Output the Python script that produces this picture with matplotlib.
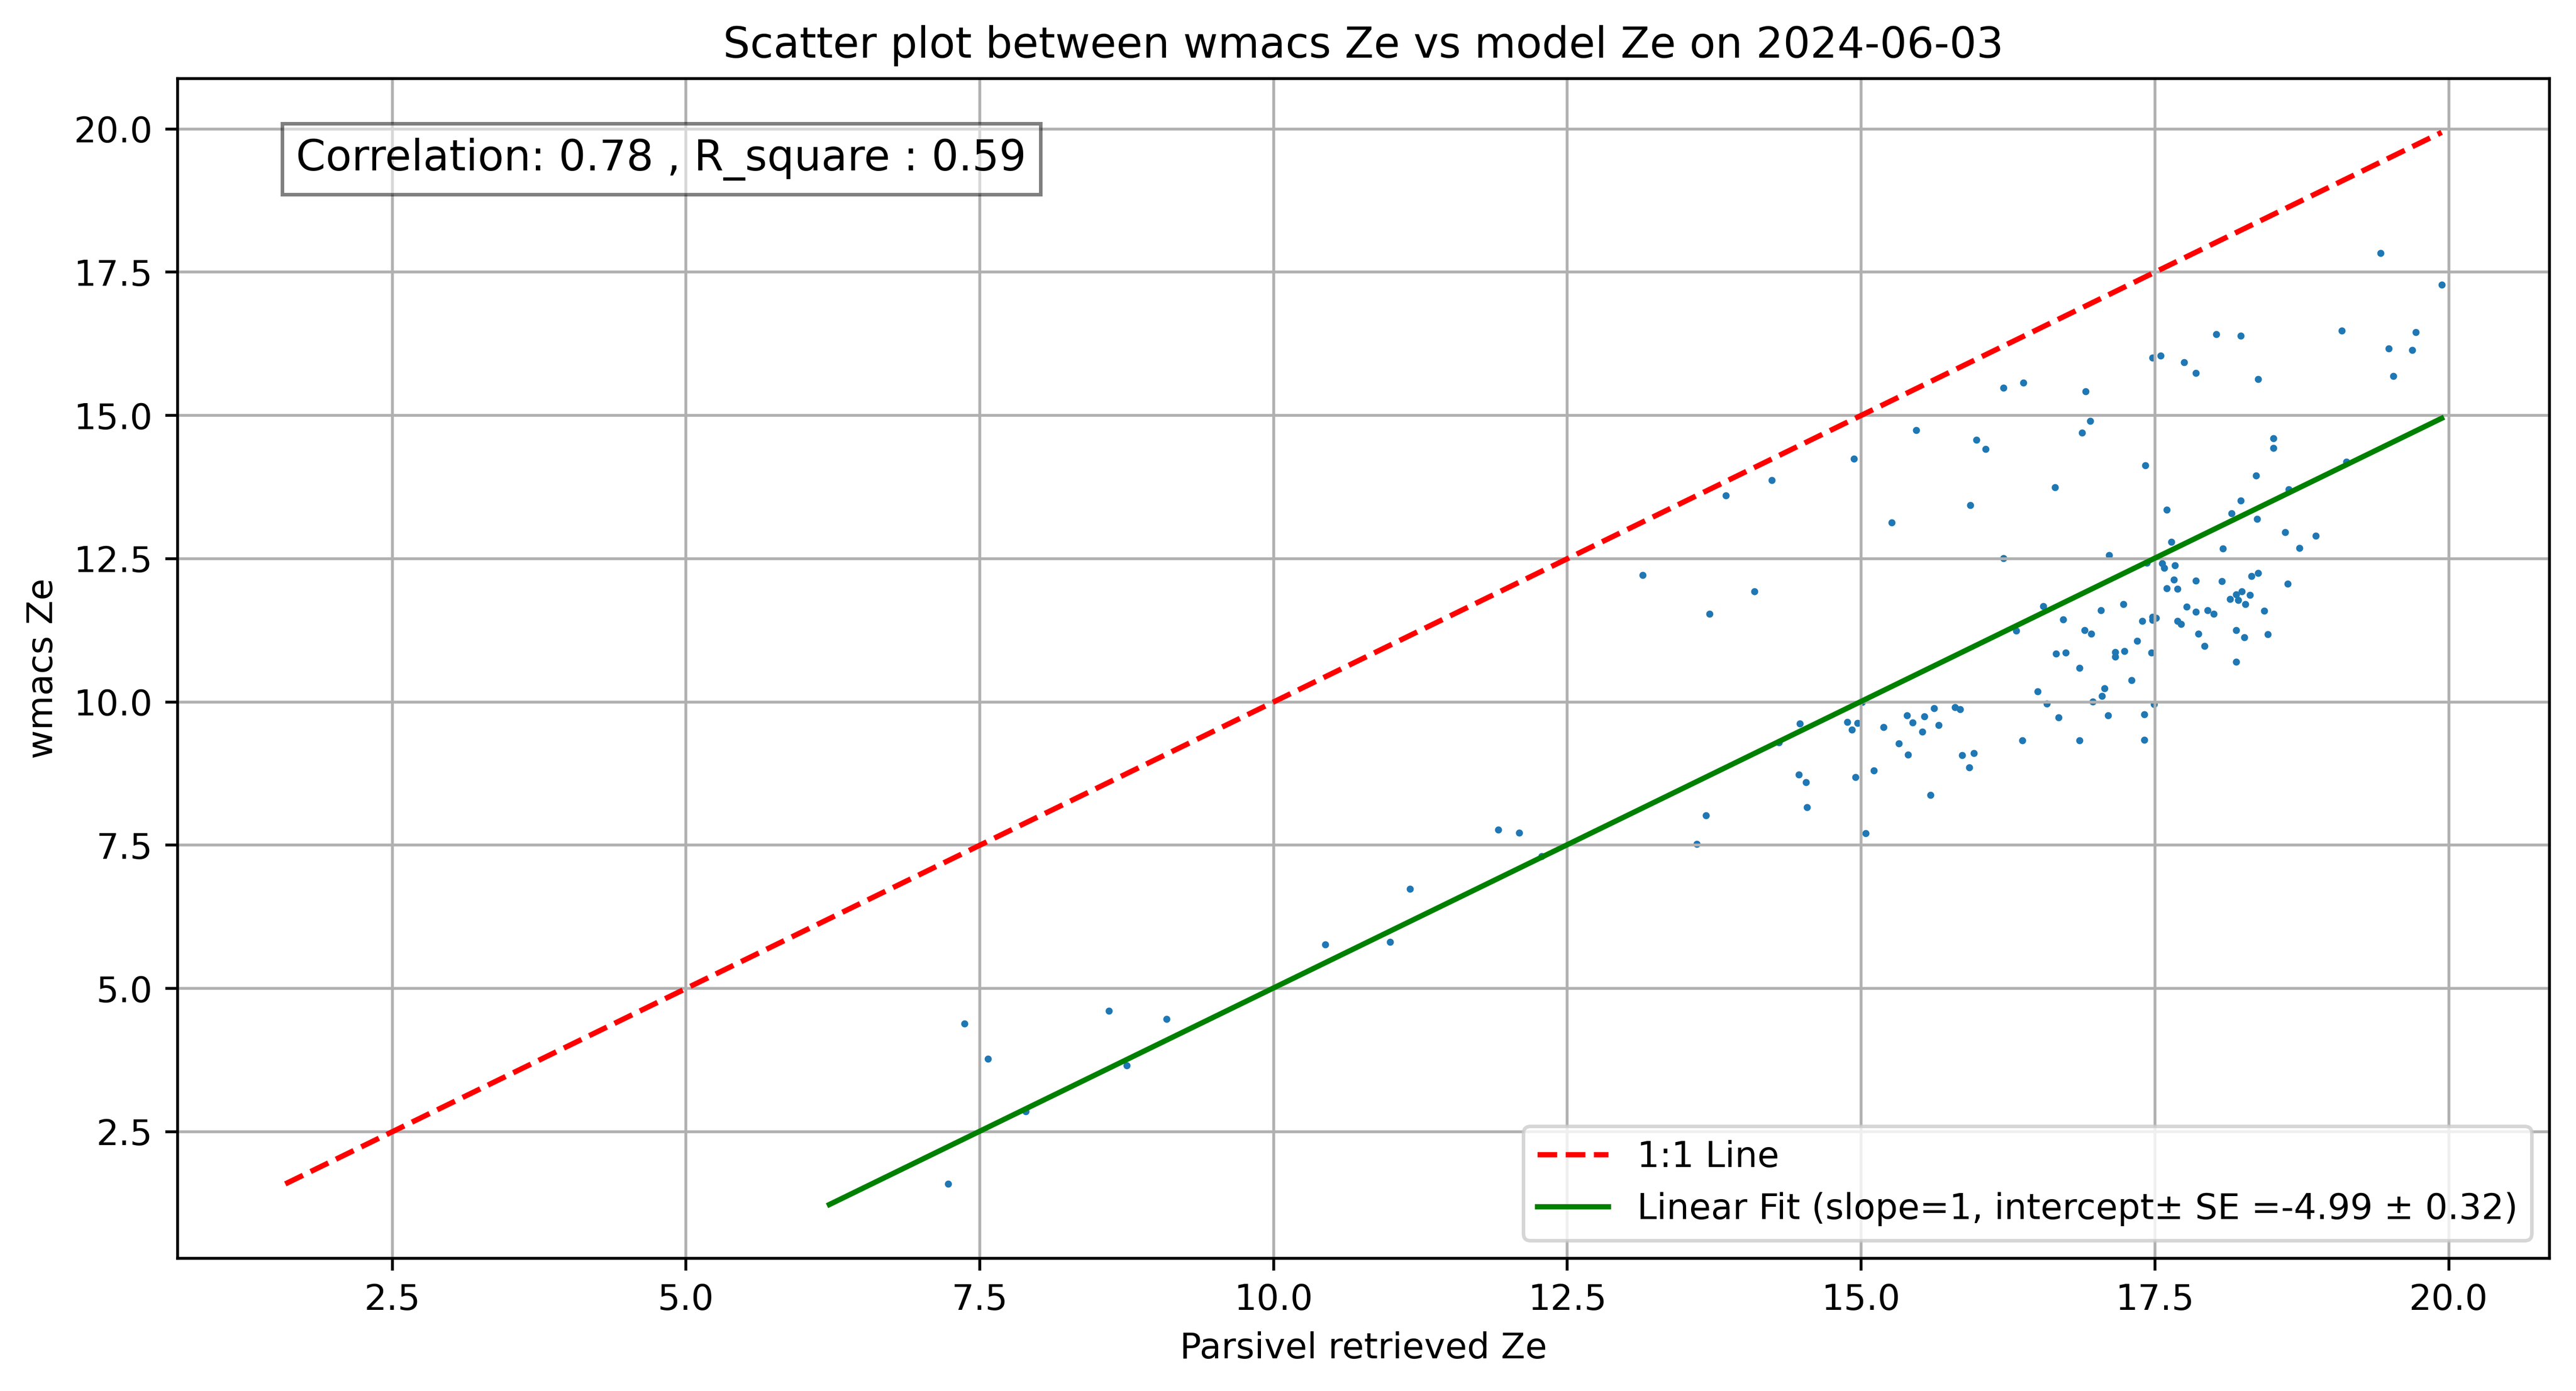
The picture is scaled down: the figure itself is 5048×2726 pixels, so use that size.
import numpy as np
import matplotlib
matplotlib.use("Agg")
import matplotlib.pyplot as plt

# values
parsivel_ze = [
    16.21, 16.38, 16.91, 16.95, 16.88, 15.47, 15.98, 16.06, 14.94, 16.65,
    15.93, 15.26, 16.21, 17.11,
    19.42, 19.94, 19.09, 19.72, 19.49, 19.69, 19.53, 17.48, 17.55, 18.02,
    18.23, 17.75, 17.85, 18.38, 18.51, 18.51, 17.42, 19.13, 18.36, 18.64,
    18.23, 17.60, 18.15, 18.37, 18.61, 18.87, 17.64, 18.08, 18.73,
    17.43, 17.56, 17.58, 17.67,
    16.55, 16.32, 16.72, 16.90, 16.96, 17.04, 17.23, 17.39, 17.48, 17.48,
    17.51, 17.35, 16.66, 16.74, 17.16, 17.16, 17.24, 17.47, 16.86, 17.30,
    16.50, 17.07, 17.05, 16.97, 16.58, 17.49, 17.10, 17.41, 16.68, 16.37,
    16.86, 17.41, 15.01, 14.88, 14.97, 14.92, 15.19, 15.39, 15.44, 15.54,
    15.52, 15.62, 15.66, 15.80, 15.84, 15.32, 15.40, 15.86, 15.96,
    17.66, 17.85, 18.07, 18.32, 18.38, 18.63, 17.60, 17.69, 18.24, 18.19,
    18.31, 18.14, 18.21, 18.27, 17.77, 17.85, 17.95, 18.00, 18.43, 17.69,
    17.72, 17.87, 18.19, 18.26, 18.46, 17.92, 18.19,
    14.30, 14.47, 14.53, 14.54, 14.95, 15.11, 15.59, 15.04, 15.92, 14.48,
    14.24, 13.85, 13.14, 14.09, 13.71, 13.68, 13.60, 12.09, 12.28,
    11.91, 11.16, 10.44, 10.99, 7.37, 7.57, 8.60, 9.09, 8.75, 7.89, 7.23,
]
wmacs_ze = [
    15.48, 15.57, 15.42, 14.90, 14.70, 14.74, 14.57, 14.41, 14.24, 13.75,
    13.43, 13.13, 12.51, 12.56,
    17.83, 17.28, 16.48, 16.45, 16.17, 16.14, 15.69, 16.01, 16.04, 16.42,
    16.39, 15.93, 15.74, 15.63, 14.60, 14.43, 14.13, 14.19, 13.95, 13.71,
    13.51, 13.35, 13.29, 13.19, 12.96, 12.90, 12.79, 12.68, 12.69,
    12.43, 12.42, 12.34, 12.38,
    11.67, 11.24, 11.44, 11.25, 11.19, 11.60, 11.71, 11.41, 11.48, 11.43,
    11.47, 11.07, 10.84, 10.86, 10.87, 10.79, 10.89, 10.86, 10.59, 10.38,
    10.18, 10.24, 10.10, 10.01, 9.97, 9.96, 9.77, 9.78, 9.73, 9.33,
    9.33, 9.34, 10.00, 9.65, 9.63, 9.52, 9.56, 9.77, 9.64, 9.75,
    9.48, 9.89, 9.60, 9.91, 9.87, 9.28, 9.08, 9.07, 9.11,
    12.13, 12.12, 12.11, 12.20, 12.25, 12.06, 11.98, 11.97, 11.93, 11.88,
    11.87, 11.80, 11.78, 11.71, 11.66, 11.57, 11.60, 11.54, 11.59, 11.41,
    11.36, 11.19, 11.25, 11.13, 11.18, 10.98, 10.70,
    9.29, 8.73, 8.60, 8.16, 8.69, 8.80, 8.38, 7.71, 8.86, 9.62,
    13.87, 13.60, 12.21, 11.93, 11.54, 8.02, 7.52, 7.72, 7.31,
    7.77, 6.74, 5.77, 5.81, 4.39, 3.77, 4.61, 4.47, 3.66, 2.86, 1.59,
]

one_to_one_range = [1.59, 19.94]
fit_x_range = [6.22, 19.94]
fit_slope = 1
fit_intercept = -4.99
intercept_se = 0.32
correlation = 0.78
r_square = 0.59
date_str = "2024-06-03"

fig = plt.figure(figsize=(5048 / 500, 2726 / 500), dpi=500)
ax = fig.add_axes([0.0689, 0.0955, 0.9208, 0.8479])

ax.scatter(parsivel_ze, wmacs_ze, s=1)

ax.plot(one_to_one_range, one_to_one_range, 'r--', label='1:1 Line')
xfit = np.array(fit_x_range)
ax.plot(xfit, fit_slope * xfit + fit_intercept, color='green',
        label=f'Linear Fit (slope={fit_slope}, intercept\u00b1 SE ={fit_intercept} \u00b1 {intercept_se})')

ax.text(0.05, 0.95, f'Correlation: {correlation} , R_square : {r_square}',
        transform=ax.transAxes, fontsize=12, va='top',
        bbox=dict(facecolor='white', alpha=0.5))

ax.set_xlabel('Parsivel retrieved Ze')
ax.set_ylabel('wmacs Ze')
ax.set_title(f'Scatter plot between wmacs Ze vs model Ze on {date_str}')
ax.legend(loc='lower right')
ax.grid(True)

fig.savefig('out.png', dpi=500)
